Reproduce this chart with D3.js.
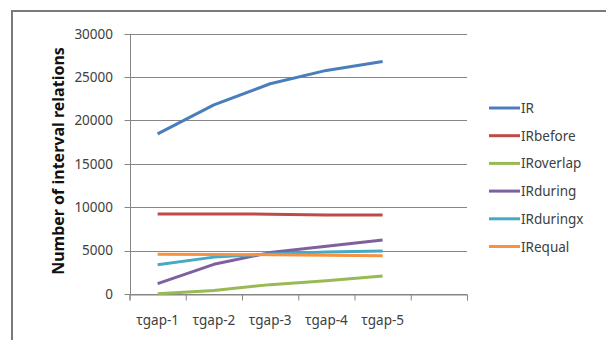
<!DOCTYPE html>
<html>
<head>
<meta charset="utf-8">
<script src="https://cdn.jsdelivr.net/npm/d3@7"></script>
<style>
  html, body { margin: 0; padding: 0; background: #fff; }
  svg text { font-family: "Noto Sans", "DejaVu Sans", sans-serif; }
</style>
</head>
<body>
<svg id="chart" width="606" height="340"></svg>
<script>
// Number of interval relations per gap setting
const categories = ["τgap-1", "τgap-2", "τgap-3", "τgap-4", "τgap-5"];
const seriesNames = ["IR", "IRbefore", "IRoverlap", "IRduring", "IRduringx", "IRequal"];
const IR        = [18450, 21800, 24230, 25770, 26800];
const IRbefore  = [9230, 9230, 9200, 9110, 9100];
const IRoverlap = [20, 400, 1080, 1540, 2080];
const IRduring  = [1200, 3420, 4770, 5500, 6230];
const IRduringx = [3380, 4250, 4620, 4850, 4960];
const IRequal   = [4580, 4560, 4530, 4460, 4420];
const yTicks = [0, 5000, 10000, 15000, 20000, 25000, 30000];
const colors = ["#4A7EBB", "#BE4B48", "#98B954", "#7D60A0", "#46AAC5", "#F69240"];

const seriesValues = [IR, IRbefore, IRoverlap, IRduring, IRduringx, IRequal];
const series = seriesNames.map((name, i) => ({ name, values: seriesValues[i], color: colors[i] }));

const svg = d3.select("#chart");

// frame edges (top and left)
svg.append("line")
  .attr("x1", 12).attr("x2", 606).attr("y1", 11).attr("y2", 11)
  .attr("stroke", "#7a7a7a").attr("stroke-width", 2);
svg.append("line")
  .attr("x1", 12).attr("x2", 12).attr("y1", 10).attr("y2", 340)
  .attr("stroke", "#7a7a7a").attr("stroke-width", 2);

const plot = { left: 129.5, right: 467, top: 33.7, bottom: 294 };
// category axis has one empty slot after the last gap setting
const slotCount = categories.length + 1;

const x = d3.scaleLinear().domain([0, slotCount]).range([plot.left, plot.right]);
const y = d3.scaleLinear().domain([0, 30000]).range([plot.bottom, plot.top]);

// horizontal gridlines with short ticks on the left
svg.append("g")
  .selectAll("line")
  .data(yTicks)
  .join("line")
  .attr("x1", plot.left - 5).attr("x2", plot.right)
  .attr("y1", d => Math.round(y(d)) + 0.5).attr("y2", d => Math.round(y(d)) + 0.5)
  .attr("stroke", "#868686").attr("stroke-width", 1);

// y axis line
svg.append("line")
  .attr("x1", Math.round(plot.left) + 0.5).attr("x2", Math.round(plot.left) + 0.5)
  .attr("y1", plot.top).attr("y2", Math.round(plot.bottom) + 0.5)
  .attr("stroke", "#868686");

// y tick labels
svg.append("g")
  .selectAll("text")
  .data(yTicks)
  .join("text")
  .attr("x", 113).attr("y", d => y(d) + 4.8)
  .attr("text-anchor", "end")
  .attr("font-size", 13.5)
  .attr("fill", "#404040")
  .text(d => d);

// x axis with tick marks between slots
const xAxis = d3.axisBottom(x)
  .tickValues(d3.range(0, slotCount + 1))
  .tickSize(6)
  .tickFormat("");
const gx = svg.append("g")
  .attr("transform", `translate(0,${Math.round(plot.bottom) + 0.5})`)
  .call(xAxis);
gx.select(".domain").attr("stroke", "#868686");
gx.selectAll(".tick line").attr("stroke", "#868686");

// category labels centred in their slots
svg.append("g")
  .selectAll("text")
  .data(categories)
  .join("text")
  .attr("x", (d, i) => x(i + 0.5))
  .attr("y", 325)
  .attr("text-anchor", "middle")
  .attr("font-size", 13.5)
  .attr("fill", "#404040")
  .text(d => d);

// y axis title
svg.append("text")
  .attr("transform", `translate(64,161) rotate(-90)`)
  .attr("text-anchor", "middle")
  .attr("font-size", 16)
  .attr("font-weight", "bold")
  .attr("fill", "#111")
  .text("Number of interval relations");

// series lines
const line = d3.line()
  .x((d, i) => x(i + 0.5))
  .y(d => y(d));

svg.append("g")
  .selectAll("path")
  .data(series)
  .join("path")
  .attr("d", d => line(d.values))
  .attr("fill", "none")
  .attr("stroke", d => d.color)
  .attr("stroke-width", 3)
  .attr("stroke-linejoin", "round");

// legend
const legend = svg.append("g")
  .selectAll("g")
  .data(series)
  .join("g")
  .attr("transform", (d, i) => `translate(489,${108 + i * 27.7})`);
legend.append("line")
  .attr("x1", 0).attr("x2", 31)
  .attr("stroke", d => d.color)
  .attr("stroke-width", 3);
legend.append("text")
  .attr("x", 32).attr("y", 5)
  .attr("font-size", 13.5)
  .attr("fill", "#404040")
  .text(d => d.name);
</script>
</body>
</html>
